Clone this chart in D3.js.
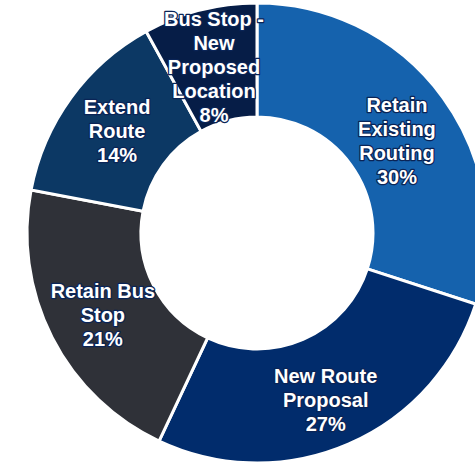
<!DOCTYPE html>
<html>
<head>
<meta charset="utf-8">
<script src="https://cdn.jsdelivr.net/npm/d3@7"></script>
<style>
  html, body { margin: 0; padding: 0; background: #fff; overflow: hidden; }
  .lbl { font-family: "Liberation Sans", Arial, sans-serif; font-weight: bold; font-size: 20px; }
</style>
</head>
<body>
<svg id="chart" width="475" height="462"></svg>
<script>
// slice data, clockwise from 12 o'clock
const categories = ['Retain Existing Routing', 'New Route Proposal', 'Retain Bus Stop', 'Extend Route', 'Bus Stop - New Proposed Location'];
const values = [30, 27, 21, 14, 8];
const labelLines = [
  ['Retain', 'Existing', 'Routing', '30%'],
  ['New Route', 'Proposal', '27%'],
  ['Retain Bus', 'Stop', '21%'],
  ['Extend', 'Route', '14%'],
  ['Bus Stop -', 'New', 'Proposed', 'Location', '8%']
];
const colors = ['#1562ad', '#012c6c', '#2f3138', '#0c3864', '#061d47'];

const svg = d3.select('#chart');
const cx = 257, cy = 233;
const outerR = 230, innerR = 116;

const pie = d3.pie().sort(null).value(d => d);
const arc = d3.arc().innerRadius(innerR).outerRadius(outerR);
const arcs = pie(values);

const g = svg.append('g').attr('transform', `translate(${cx},${cy})`);

// slices
g.selectAll('path.slice')
  .data(arcs)
  .enter()
  .append('path')
  .attr('class', 'slice')
  .attr('d', arc)
  .attr('fill', (d, i) => colors[i])
  .attr('stroke', '#fff')
  .attr('stroke-width', 3);

// small vertical nudges so labels sit like the original
const nudge = [10, 8, 3, 0, 2];
const lineH = 24;

const labels = g.selectAll('text.lbl')
  .data(arcs)
  .enter()
  .append('text')
  .attr('class', 'lbl')
  .attr('text-anchor', 'middle')
  .attr('fill', '#fff')
  .attr('stroke', '#0a2456')
  .attr('stroke-width', 2.5)
  .attr('stroke-linejoin', 'round')
  .attr('paint-order', 'stroke');

labels.each(function (d, i) {
  const [x, y] = arc.centroid(d);
  const lines = labelLines[i];
  const y0 = y - (lines.length - 1) * lineH / 2 + 7 + nudge[i];
  d3.select(this).selectAll('tspan')
    .data(lines)
    .enter()
    .append('tspan')
    .attr('x', x)
    .attr('y', (t, k) => y0 + k * lineH)
    .text(t => t);
});
</script>
</body>
</html>
